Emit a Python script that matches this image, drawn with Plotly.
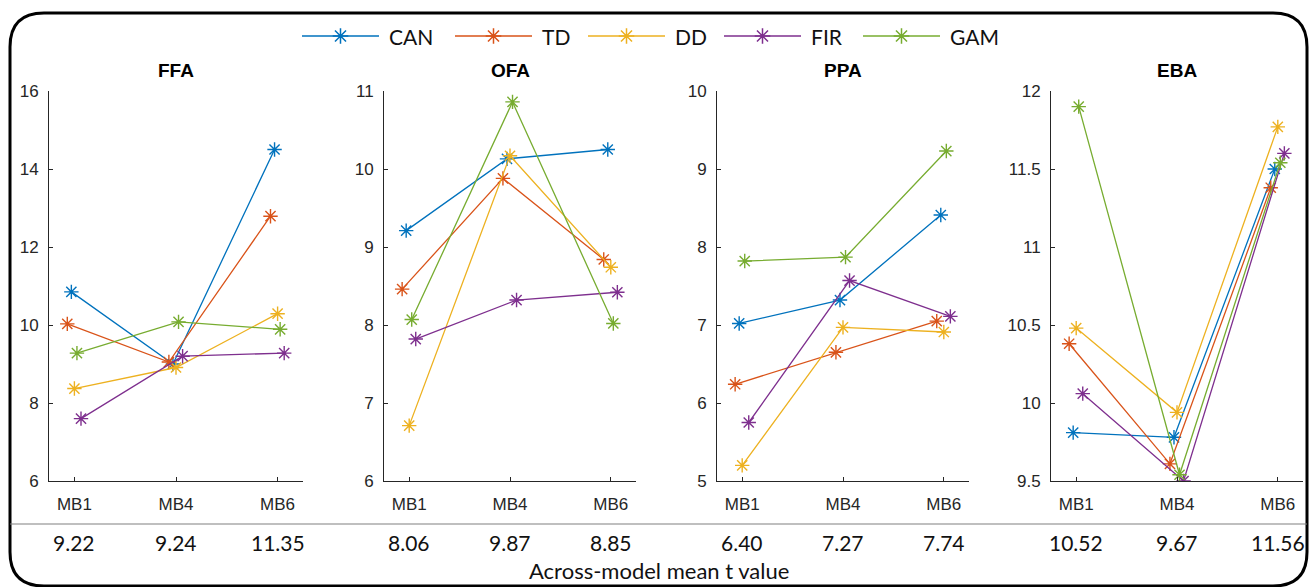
import plotly.graph_objects as go

# ---------------- data ----------------
regions = ["FFA", "OFA", "PPA", "EBA"]
conditions = ["MB1", "MB4", "MB6"]
models = ["CAN", "TD", "DD", "FIR", "GAM"]

ffa = {"CAN": [10.85, 9.00, 14.50], "TD": [10.03, 9.05, 12.79], "DD": [8.37, 8.91, 10.29],
       "FIR": [7.60, 9.20, 9.28], "GAM": [9.28, 10.08, 9.89]}
ofa = {"CAN": [9.21, 10.13, 10.25], "TD": [8.46, 9.88, 8.84], "DD": [6.71, 10.17, 8.74],
       "FIR": [7.82, 8.32, 8.42], "GAM": [8.07, 10.86, 8.02]}
ppa = {"CAN": [7.02, 7.32, 8.41], "TD": [6.24, 6.65, 7.05], "DD": [5.20, 6.97, 6.91],
       "FIR": [5.75, 7.57, 7.11], "GAM": [7.82, 7.87, 9.23]}
eba = {"CAN": [9.81, 9.78, 11.50], "TD": [10.38, 9.61, 11.38], "DD": [10.48, 9.94, 11.77],
       "FIR": [10.06, 9.50, 11.60], "GAM": [11.90, 9.54, 11.54]}

ffa_means = ["9.22", "9.24", "11.35"]
ofa_means = ["8.06", "9.87", "8.85"]
ppa_means = ["6.40", "7.27", "7.74"]
eba_means = ["10.52", "9.67", "11.56"]

y_ranges = [[6, 16], [6, 11], [5, 10], [9.5, 12]]
y_dticks = [2, 1, 1, 0.5]
bottom_label = "Across-model mean t value"

# ---------------- style ----------------
colors = {"CAN": "#0072BD", "TD": "#D95319", "DD": "#EDB120", "FIR": "#7E2F8E", "GAM": "#77AC30"}
x_offsets = {"CAN": -0.03, "TD": -0.07, "DD": 0.0, "FIR": 0.065, "GAM": 0.025}
W, H = 1314, 587
x_domains_px = [(49, 303), (384, 636), (717, 969), (1051, 1303)]
y_domain_px = (91, 481)
legend_line_starts = [302, 455, 588, 724, 863]
legend_line_len = 77
legend_y = 36
axis_color = "#262626"
tick_font = dict(family="Liberation Sans, Arial, sans-serif", size=17, color=axis_color)
side_font = dict(family="Lato, sans-serif", size=21, color="#111111")

all_data = [ffa, ofa, ppa, eba]
all_means = [ffa_means, ofa_means, ppa_means, eba_means]

fig = go.Figure()

for p, (region, data) in enumerate(zip(regions, all_data)):
    ax = "" if p == 0 else str(p + 1)
    for m in models:
        xs = [i + 1 + x_offsets[m] for i in range(len(conditions))]
        fig.add_trace(go.Scatter(
            x=xs, y=data[m], mode="lines+markers", name=m, showlegend=False,
            xaxis="x" + ax, yaxis="y" + ax,
            line=dict(color=colors[m], width=1.3),
            marker=dict(symbol="asterisk-open", size=12, color=colors[m],
                        line=dict(color=colors[m], width=1.4)),
            hoverinfo="skip"))
    d0, d1 = x_domains_px[p]
    fig.layout["xaxis" + ax] = dict(
        domain=[d0 / W, d1 / W], range=[0.75, 3.25], tickvals=[1, 2, 3], ticktext=conditions,
        showline=True, linecolor=axis_color, linewidth=1, ticks="inside", ticklen=4,
        tickcolor=axis_color, tickfont=tick_font, showgrid=False, zeroline=False,
        anchor="y" + ax, fixedrange=True, ticklabelstandoff=8, automargin=False)
    lo, hi = y_ranges[p]
    fig.layout["yaxis" + ax] = dict(
        domain=[1 - y_domain_px[1] / H, 1 - y_domain_px[0] / H], range=[lo, hi],
        tick0=lo, dtick=y_dticks[p], showline=True, linecolor=axis_color, linewidth=1,
        ticks="inside", ticklen=4, tickcolor=axis_color, tickfont=tick_font,
        showgrid=False, zeroline=False, anchor="x" + ax, fixedrange=True,
        ticklabelstandoff=6, automargin=False)
    # panel title
    fig.add_annotation(text="<b>%s</b>" % region, xref="x%s domain" % ax, x=0.5,
                       yref="y5", y=70, showarrow=False, xanchor="center", yanchor="middle",
                       font=dict(family="Liberation Sans, Arial, sans-serif", size=19, color="#000"))
    # mean t values
    for i, txt in enumerate(all_means[p]):
        fig.add_annotation(text=txt, xref="x" + ax, x=i + 1, yref="y5", y=542,
                           showarrow=False, xanchor="center", yanchor="middle", font=side_font)

# overlay pixel axis for frame and legend
fig.layout["xaxis5"] = dict(domain=[0, 1], range=[0, W], visible=False, fixedrange=True,
                            anchor="y5", automargin=False)
fig.layout["yaxis5"] = dict(domain=[0, 1], range=[H, 0], visible=False, fixedrange=True,
                            anchor="x5", automargin=False)

for k, m in enumerate(models):
    x0 = legend_line_starts[k]
    x1 = x0 + legend_line_len
    fig.add_trace(go.Scatter(x=[x0, x1], y=[legend_y, legend_y], mode="lines", xaxis="x5", yaxis="y5",
                             line=dict(color=colors[m], width=1.5), showlegend=False, hoverinfo="skip"))
    fig.add_trace(go.Scatter(x=[(x0 + x1) / 2], y=[legend_y], mode="markers", xaxis="x5", yaxis="y5",
                             marker=dict(symbol="asterisk-open", size=13, color=colors[m],
                                         line=dict(color=colors[m], width=1.5)),
                             showlegend=False, hoverinfo="skip"))
    fig.add_annotation(text=m, xref="x5", x=x1 + 8, yref="y5", y=legend_y, showarrow=False,
                       xanchor="left", yanchor="middle", font=side_font)

fig.add_annotation(text=bottom_label, xref="x5", x=W / 2 + 2, yref="y5", y=570, showarrow=False,
                   xanchor="center", yanchor="middle",
                   font=dict(family="Lato, sans-serif", size=22, color="#111"))

# rounded frame
r = 34
fx0, fx1, fy0, fy1 = 10, 1307, 13, 586
path = (f"M {fx0 + r},{fy0} L {fx1 - r},{fy0} Q {fx1},{fy0} {fx1},{fy0 + r} "
        f"L {fx1},{fy1 - r} Q {fx1},{fy1} {fx1 - r},{fy1} L {fx0 + r},{fy1} "
        f"Q {fx0},{fy1} {fx0},{fy1 - r} L {fx0},{fy0 + r} Q {fx0},{fy0} {fx0 + r},{fy0} Z")
fig.add_shape(type="path", path=path, xref="x5", yref="y5", line=dict(color="#000", width=3))
fig.add_shape(type="line", x0=fx0, x1=fx1, y0=524, y1=524, xref="x5", yref="y5",
              line=dict(color="#808080", width=1.2))

fig.update_layout(width=W, height=H, autosize=False,
                  margin=dict(l=0, r=0, t=0, b=0, pad=0, autoexpand=False),
                  paper_bgcolor="white", plot_bgcolor="rgba(0,0,0,0)", showlegend=False)

fig.write_html("out.html", config={"displayModeBar": False},
               post_script="document.body.style.margin='0';document.body.style.overflow='hidden';")
